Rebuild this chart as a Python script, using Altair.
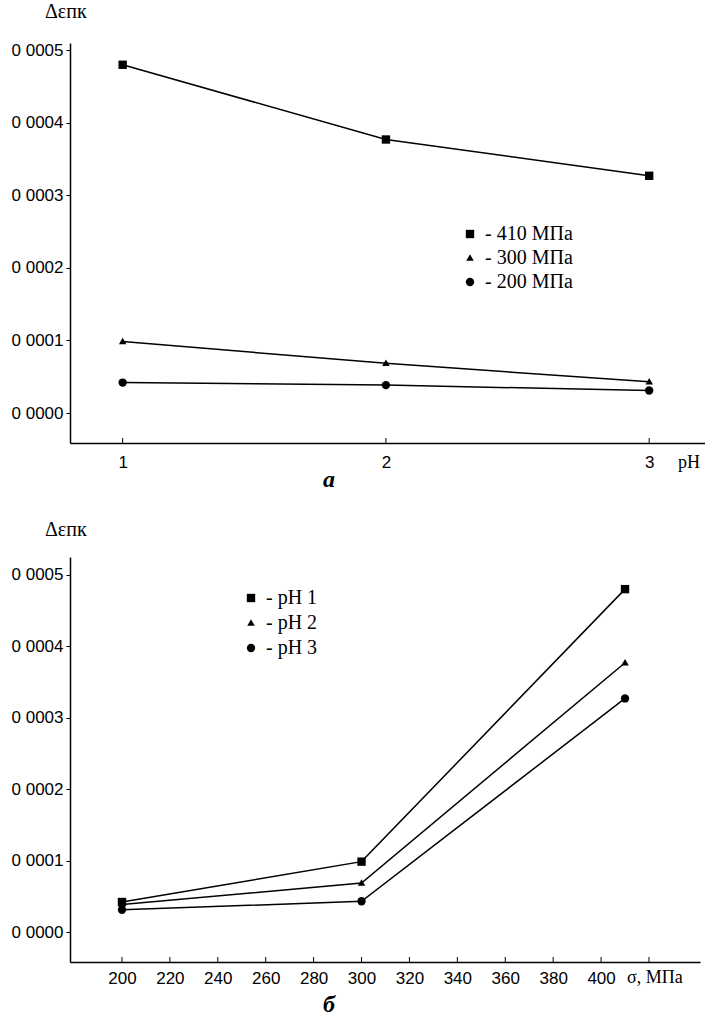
import altair as alt
import pandas as pd

# ---- data ----
ph_values = [1, 2, 3]
series_names = ["410 МПа", "300 МПа", "200 МПа"]
series_stress = [410, 300, 200]
series_410 = [0.000480, 0.000377, 0.000327]
series_300 = [0.0000985, 0.0000685, 0.000043]
series_200 = [0.000042, 0.0000385, 0.000031]

ph_names = ["pH 1", "pH 2", "pH 3"]
y_ticks = [0.0, 0.0001, 0.0002, 0.0003, 0.0004, 0.0005]
x_ticks_a = [1, 2, 3]
x_ticks_b = [200, 220, 240, 260, 280, 300, 320, 340, 360, 380, 400, 420]
x_labels_b = [200, 220, 240, 260, 280, 300, 320, 340, 360, 380, 400]

rows = []
for name, s, vals in zip(series_names, series_stress, [series_410, series_300, series_200]):
    for p, pn, v in zip(ph_values, ph_names, vals):
        rows.append({"stress_name": name, "stress": s, "ph": p, "ph_name": pn, "val": v})
df = pd.DataFrame(rows)

shapes = ["square", "M0,-0.9L0.9,0.65L-0.9,0.65Z", "circle"]
label_expr = "replace(format(datum.value, '.4f'), '.', ' ')"

W_A, H_A = 635, 400
W_B, H_B = 630, 405

def yaxis():
    return alt.Axis(values=y_ticks, labelExpr=label_expr, grid=False, tickSize=4,
                    tickColor="black", domainColor="black", domainWidth=1.5,
                    labelFont="Liberation Sans", labelFontSize=17, labelColor="black",
                    labelPadding=3, title=None)

def legend(x, y, rp):
    return alt.Legend(title=None, orient="none", legendX=x, legendY=y,
                      labelExpr="'- ' + datum.label", labelFont="Liberation Serif",
                      labelFontSize=20, labelColor="black", labelOffset=5,
                      rowPadding=rp, padding=0, symbolFillColor="black",
                      symbolStrokeColor="black", symbolStrokeWidth=0, symbolSize=70)

def text_layer(txt, x, y, size=16, font="Liberation Serif", weight="normal", style="normal", align="left"):
    return alt.Chart(pd.DataFrame({"t": [txt]})).mark_text(
        font=font, fontSize=size, fontWeight=weight, fontStyle=style, align=align,
        baseline="middle", color="black"
    ).encode(text="t:N", x=alt.value(x), y=alt.value(y))

# ---------- chart a ----------
xa_scale = alt.Scale(domain=[0.8, 3.212], nice=False, zero=False)
xa = alt.X("ph:Q", scale=xa_scale,
           axis=alt.Axis(values=x_ticks_a, format="d", grid=False, ticks=False,
                         domainColor="black", domainWidth=1.5, labelFont="Liberation Sans",
                         labelFontSize=17, labelColor="black", labelPadding=11, title=None))
ya = alt.Y("val:Q", scale=alt.Scale(domain=[-0.0000413, 0.00051], nice=False, zero=False), axis=yaxis())

lines_a = alt.Chart(df).mark_line(color="black", strokeWidth=1.5).encode(x=xa, y=ya, detail="stress_name:N")
points_a = alt.Chart(df).mark_point(filled=True, color="black", opacity=1, size=70, strokeWidth=0).encode(
    x=xa, y=ya,
    shape=alt.Shape("stress_name:N", scale=alt.Scale(domain=series_names, range=shapes),
                    legend=legend(390, 181, 4)),
)
ticks_a = alt.Chart(pd.DataFrame({"t": x_ticks_a})).mark_rule(color="black", strokeWidth=1).encode(
    x=alt.X("t:Q", scale=xa_scale), y=alt.value(H_A - 5), y2=alt.value(H_A))

chart_a = alt.layer(
    lines_a, points_a, ticks_a,
    text_layer("Δεпк", -25, -31, size=20),
    text_layer("pH", 608, 420, size=18),
    text_layer("а", 259, 437, size=24, weight="bold", style="italic", align="center"),
).properties(width=W_A, height=H_A)

# ---------- chart b ----------
xb_scale = alt.Scale(domain=[178.3, 441.3], nice=False, zero=False)
xb = alt.X("stress:Q", scale=xb_scale,
           axis=alt.Axis(values=x_labels_b, format="d", grid=False, ticks=False,
                         domainColor="black", domainWidth=1.5, labelFont="Liberation Sans",
                         labelFontSize=17, labelColor="black", labelPadding=8, title=None))
yb = alt.Y("val:Q", scale=alt.Scale(domain=[-0.000042, 0.000525], nice=False, zero=False), axis=yaxis())

lines_b = alt.Chart(df).mark_line(color="black", strokeWidth=1.5).encode(x=xb, y=yb, detail="ph_name:N")
points_b = alt.Chart(df).mark_point(filled=True, color="black", opacity=1, size=70, strokeWidth=0).encode(
    x=xb, y=yb,
    shape=alt.Shape("ph_name:N", scale=alt.Scale(domain=ph_names, range=shapes),
                    legend=legend(171, 31, 5)),
)
ticks_b = alt.Chart(pd.DataFrame({"t": x_ticks_b})).mark_rule(color="black", strokeWidth=1).encode(
    x=alt.X("t:Q", scale=xb_scale), y=alt.value(H_B - 5), y2=alt.value(H_B))

chart_b = alt.layer(
    lines_b, points_b, ticks_b,
    text_layer("Δεпк", -25, -27, size=20),
    text_layer("σ, МПа", 557, 421, size=18),
    text_layer("б", 259, 448, size=24, weight="bold", style="italic", align="center"),
).properties(width=W_B, height=H_B)

chart = alt.vconcat(chart_a, chart_b, spacing=114, bounds="flush").resolve_scale(
    x="independent", y="independent", shape="independent"
).properties(
    padding={"left": 11, "top": 2, "right": 0, "bottom": 5},
    background="white",
).configure_view(stroke=None).configure_legend(
    labelFont="Liberation Serif", labelFontSize=20, labelColor="black"
)

chart.save("out.html", embed_options={"renderer": "svg", "actions": False})
